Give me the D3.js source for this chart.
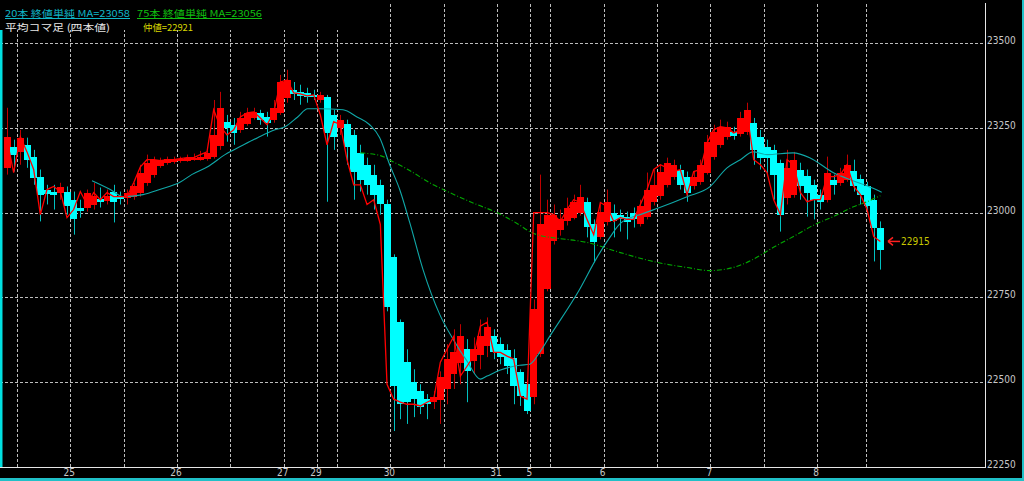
<!DOCTYPE html>
<html><head><meta charset="utf-8">
<script src="https://cdn.jsdelivr.net/npm/d3@7"></script>
<style>html,body{margin:0;padding:0;background:#000;overflow:hidden}svg{display:block}</style>
</head><body>
<svg id="chart" width="1024" height="481"></svg>
<script>
// Heikin-Ashi (平均コマ足) candles, one per slot
const haOpen = [
23132,23194,23179,23200,23165,23106,23068,23062,23059,23062,
23038,23015,23015,23021,23041,23035,23062,23047,23044,23047,
23059,23088,23112,23138,23147,23150,23153,23153,23156,23156,
23159,23165,23197,23268,23259,23244,23262,23279,23294,23282,
23274,23294,23338,23362,23356,23353,23347,23332,23341,23288,
23250,23262,23229,23177,23141,23112,23082,23024,22868,22677,
22559,22500,22474,22450,22441,22447,22480,22524,22556,22597,
22562,22580,22606,22635,22612,22594,22571,22530,22494,22456,
22582,22774,22915,22950,22974,22985,23000,23032,22965,22929,
22971,23000,22994,22988,23000,22965,22988,23030,23050,23082,
23106,23127,23106,23077,23091,23118,23165,23200,23224,23238,
23232,23238,23265,23224,23194,23185,23147,23044,23053,23127,
23109,23082,23053,23038,23097,23088,23097,23124,23100,23077,
23038,22956];
const haClose = [
23224,23171,23221,23156,23103,23053,23056,23053,23074,23018,
22980,23006,23059,23050,23032,23050,23032,23041,23059,23079,
23118,23147,23156,23156,23159,23159,23159,23162,23162,23165,
23177,23229,23309,23250,23235,23279,23294,23297,23274,23265,
23309,23385,23391,23350,23344,23341,23341,23347,23235,23224,
23274,23194,23121,23097,23082,23053,23024,22721,22488,22435,
22441,22450,22427,22435,22456,22515,22568,22588,22635,22532,
22597,22635,22662,22588,22574,22547,22488,22459,22415,22715,
22965,22994,22994,22980,23015,23030,23047,22959,22912,23003,
23030,22974,22980,22971,22982,23018,23068,23082,23121,23147,
23141,23082,23059,23106,23141,23209,23238,23253,23253,23227,
23279,23303,23185,23162,23162,23112,22994,23132,23156,23077,
23059,23038,23032,23118,23082,23118,23141,23077,23053,23018,
22956,22891];
const haHigh = [
23309,23215,23244,23221,23185,23127,23082,23082,23088,23077,
23062,23038,23068,23088,23074,23068,23082,23062,23068,23088,
23141,23171,23165,23162,23165,23165,23165,23171,23174,23182,
23191,23332,23356,23288,23279,23297,23309,23309,23303,23297,
23332,23406,23421,23385,23377,23368,23362,23356,23347,23303,
23288,23274,23244,23200,23162,23141,23097,23038,22877,22685,
22597,22538,22494,22465,22474,22532,22612,22656,22671,22627,
22632,22685,22691,22656,22632,22612,22597,22538,22509,22744,
23112,23038,23024,23009,23044,23053,23082,23044,22980,23030,
23068,23024,23009,23003,23015,23038,23118,23127,23141,23162,
23156,23141,23121,23121,23156,23229,23259,23274,23268,23253,
23297,23324,23279,23244,23215,23200,23156,23185,23179,23147,
23127,23097,23068,23165,23112,23132,23171,23156,23112,23091,
23053,22974];
const haLow = [
23112,23121,23141,23132,23082,22974,23024,23009,23038,22994,
22935,22985,23003,23009,23015,23024,22971,23024,23024,23038,
23047,23079,23103,23132,23141,23144,23147,23150,23153,23153,
23153,23159,23185,23209,23200,23235,23256,23274,23259,23224,
23265,23288,23324,23332,23318,23324,23332,23324,23032,23185,
23229,23141,23038,23062,23053,23009,22994,22709,22356,22391,
22377,22397,22406,22391,22421,22377,22435,22480,22494,22441,
22524,22538,22574,22568,22553,22524,22435,22430,22406,22435,
22574,22768,22906,22932,22962,22980,22991,22927,22853,22921,
22962,22927,22944,22921,22956,22959,22980,23021,23038,23074,
23097,23068,23032,23068,23082,23112,23156,23191,23215,23215,
23224,23229,23141,23127,23112,23038,22944,23024,23044,23038,
22988,22980,23009,23030,23053,23079,23091,23062,23024,22994,
22856,22832];
// actual close line (red)
const closeLine = [
23215,23118,23224,23179,23127,22994,23068,23077,23062,22985,
23009,23062,23024,23059,23038,23059,23047,23047,23047,23088,
23135,23156,23156,23153,23156,23156,23159,23162,23162,23171,
23179,23303,23253,23229,23244,23282,23294,23297,23279,23259,
23294,23385,23391,23353,23350,23344,23347,23288,23200,23268,
23259,23156,23082,23082,23024,23038,22965,22494,22450,22441,
22435,22435,22430,22441,22450,22559,22597,22635,22518,22547,
22577,22665,22677,22588,22588,22577,22568,22459,22450,23000,
23000,23000,22994,22974,23009,23038,23030,22980,22935,23030,
23018,22974,22985,22980,22980,23024,23068,23127,23141,23132,
23121,23127,23053,23121,23127,23206,23244,23253,23250,23235,
23244,23294,23156,23141,23118,23038,22994,23156,23141,23059,
23032,23038,23038,23106,23106,23112,23141,23077,23053,23009,
22929,22915];
// 20本 MA (sampled along the slot axis)
const ma20Idx = [12.75,15.5,17.4,20.4,22.9,26,27.7,30.1,32.7,35.2,37.6,40.2,41.7,43.6,45.1,46.9,50.4,52.5,54.4,55.9,57.4,58.9,60.4,62.4,64.9,66.9,69,71,72,73.9,76.9,78.4,79.9,81.4,85.9,88.5,90.5,92,95.4,97.9,102,105.4,108,110,111.9,114,117.9,120.4,123.9,126.9,129,131.2];
const ma20Val = [23094,23068,23047,23053,23068,23090,23112,23135,23171,23197,23221,23244,23253,23282,23306,23306,23303,23282,23259,23221,23141,23068,22971,22832,22700,22627,22562,22509,22518,22535,22550,22553,22588,22635,22774,22868,22929,22968,22997,23015,23047,23076,23132,23156,23179,23171,23176,23162,23118,23094,23079,23060];
// 75本 MA
const ma75Idx = [53,56,57.9,60.4,63.4,66.4,70.2,73.5,76.5,78.7,80,81.9,87,92,96.9,102,105.4,108.9,111.9,114.9,117.9,121.2,123.9,126.7,129,131];
const ma75Val = [23176,23168,23150,23124,23088,23059,23026,23000,22968,22941,22932,22926,22912,22882,22856,22838,22829,22838,22862,22897,22929,22965,22988,23015,23032,23050];
// axes
const gridSlots = [2,10,18,26,34,42,47,50,58,66,74,79,82,90,98,106,114,122,129.3];
const dayLabels = ["25","26","27","29","30","31","5","6","7","8"];
const daySlots = [10,26,42,47,58,74,79,90,106,122];
const yTicks = [22250,22500,22750,23000,23250,23500];
const lastPrice = 22915;
const legend1 = "20本 終値単純 MA=23058";
const legend2 = "75本 終値単純 MA=23056";
const legend3 = "平均コマ足 (四本値)";
const legend4 = "仲値=22921";

const svg = d3.select("#chart");
const W = 1024, H = 481;
const plotRight = 985, plotBottom = 467, plotTop = 3;
svg.append("rect").attr("width", W).attr("height", H).attr("fill", "#000");

const N = haOpen.length;
const x = d3.scaleLinear().domain([0, 132]).range([3.67, 3.67 + 132 * 6.667]);
const y = d3.scaleLinear().domain([22250, 23500]).range([467, 43]);
const narrow = "'Liberation Sans Narrow','Arial Narrow','DejaVu Sans Condensed',sans-serif";
const jp = "'Noto Sans CJK JP','Noto Sans CJK SC',sans-serif";

// grid
const g = svg.append("g");
g.selectAll("line.h").data(yTicks.filter(t => t > 22250)).join("line")
  .attr("x1", 0).attr("x2", plotRight)
  .attr("y1", d => Math.round(y(d)) + 0.5).attr("y2", d => Math.round(y(d)) + 0.5)
  .attr("stroke", "#bdbdbd").attr("stroke-dasharray", "3,2");
g.selectAll("line.v").data(gridSlots).join("line")
  .attr("x1", d => Math.round(x(d)) + 0.5).attr("x2", d => Math.round(x(d)) + 0.5)
  .attr("y1", 4).attr("y2", plotBottom)
  .attr("stroke", "#bdbdbd").attr("stroke-dasharray", "3,2");
// legend panel covers the grid at the top-left
svg.append("rect").attr("x", 0).attr("y", 0).attr("width", 345).attr("height", 30).attr("fill", "#000");

// frame
svg.append("line").attr("x1", plotRight + 0.5).attr("x2", plotRight + 0.5).attr("y1", plotTop).attr("y2", plotBottom + 1)
  .attr("stroke", "#e6e6e6");
svg.append("line").attr("x1", 0).attr("x2", plotRight + 1).attr("y1", plotBottom + 0.5).attr("y2", plotBottom + 0.5)
  .attr("stroke", "#e6e6e6");
svg.append("rect").attr("x", 0).attr("y", 30).attr("width", 2.5).attr("height", plotBottom - 30).attr("fill", "#00e0e0");
svg.append("rect").attr("x", 0).attr("y", 478).attr("width", W).attr("height", 3).attr("fill", "#20c0c8");
svg.append("rect").attr("x", 1022).attr("y", 0).attr("width", 2).attr("height", H).attr("fill", "#20c0c8");

// right axis labels
svg.selectAll("text.yl").data(yTicks).join("text")
  .attr("x", 987).attr("y", d => Math.round(y(d)) + 1)
  .attr("fill", "#c8c8c8").attr("font-family", narrow).attr("font-size", 10)
  .text(d => d);
// day labels
svg.selectAll("text.xl").data(dayLabels).join("text")
  .attr("x", (d, i) => x(daySlots[i]) - 1).attr("y", 476)
  .attr("text-anchor", "middle")
  .attr("fill", "#c8c8c8").attr("font-family", narrow).attr("font-size", 10)
  .text(d => d);

// candles
const idx = d3.range(N);
const up = i => haClose[i] >= haOpen[i];
svg.append("g").selectAll("line").data(idx).join("line")
  .attr("x1", i => Math.round(x(i + 0.5)) + 0.5).attr("x2", i => Math.round(x(i + 0.5)) + 0.5)
  .attr("y1", i => y(haHigh[i])).attr("y2", i => y(haLow[i]))
  .attr("stroke", i => up(i) ? "#c00000" : "#00c0c0").attr("stroke-width", 1);
svg.append("g").attr("shape-rendering", "crispEdges").selectAll("rect").data(idx).join("rect")
  .attr("x", i => x(i)).attr("width", i => x(i + 1) - x(i) + 0.4)
  .attr("y", i => y(Math.max(haOpen[i], haClose[i])))
  .attr("height", i => Math.max(2, Math.abs(y(haOpen[i]) - y(haClose[i]))))
  .attr("fill", i => up(i) ? "#ff0000" : "#00ffff");

// moving averages
const maLine = d3.line().x(d => x(d[0] + 0.5)).y(d => y(d[1])).curve(d3.curveMonotoneX);
svg.append("path").attr("d", maLine(ma75Idx.map((v, i) => [v, ma75Val[i]])))
  .attr("fill", "none").attr("stroke", "#00a800").attr("stroke-width", 1.1).attr("stroke-dasharray", "5,2,1,2");
svg.append("path").attr("d", maLine(ma20Idx.map((v, i) => [v, ma20Val[i]])))
  .attr("fill", "none").attr("stroke", "#10a8a8").attr("stroke-width", 1.1);

// close line
svg.append("path").attr("d", d3.line().x((d, i) => x(i + 0.5)).y(d => y(d))(closeLine))
  .attr("fill", "none").attr("stroke", "#ff0000").attr("stroke-width", 1.3);

// last price marker
const ly = y(lastPrice);
svg.append("line").attr("x1", 889).attr("x2", 900).attr("y1", ly).attr("y2", ly).attr("stroke", "#ff2020").attr("stroke-width", 1.5);
svg.append("path").attr("d", `M888,${ly} L893,${ly - 4} M888,${ly} L893,${ly + 4}`).attr("stroke", "#ff2020").attr("stroke-width", 1.5).attr("fill", "none");
svg.append("text").attr("x", 901).attr("y", ly + 3.5).attr("fill", "#c8c800")
  .attr("font-family", narrow).attr("font-size", 10).text(lastPrice);

// legend
function leg(t, x0, yb, w, col, ul) {
  svg.append("text").attr("x", x0).attr("y", yb).attr("fill", col)
    .attr("font-family", jp).attr("font-size", 9.6)
    .attr("textLength", w).attr("lengthAdjust", "spacingAndGlyphs").text(t);
  if (ul) svg.append("line").attr("x1", x0).attr("x2", x0 + w).attr("y1", yb + 2).attr("y2", yb + 2).attr("stroke", col);
}
leg(legend1, 5, 16.5, 125, "#10b8c8", true);
leg(legend2, 137, 16.5, 125, "#10c010", true);
leg(legend3, 5, 30.5, 105, "#e8e8e8", false);
leg(legend4, 143, 30.5, 50, "#d8d800", false);
</script>
</body></html>
